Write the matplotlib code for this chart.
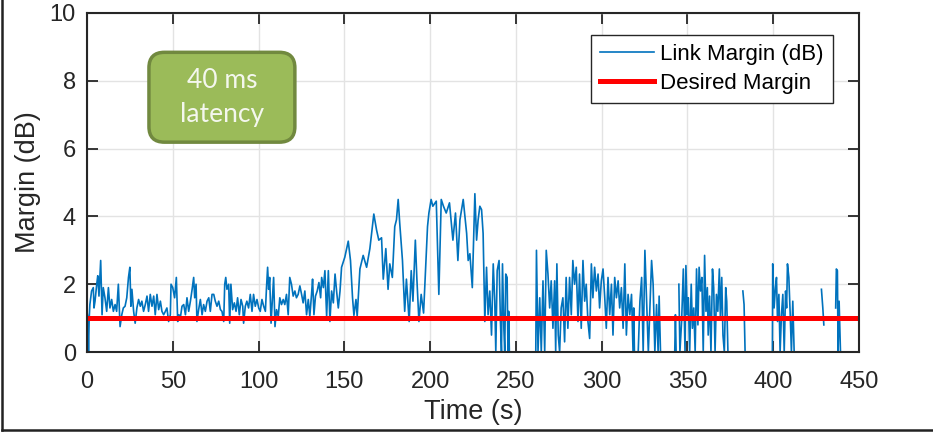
import numpy as np
import matplotlib
matplotlib.use("Agg")
import matplotlib.pyplot as plt
from matplotlib.patches import FancyBboxPatch
from matplotlib.lines import Line2D

plt.rcParams['font.family'] = ['Liberation Sans', 'DejaVu Sans']

# link margin samples, (time s, margin dB), one list per continuous run
quiet_run = [
    (0, 1.2), (0.5, 1.0), (0.9, 0.0), (1.3, 1.0), (1.7, 1.4), (2.7, 1.8), (3.7, 1.9), (4.1, 1.3),
    (4.7, 1.5), (5.7, 2.0), (6.3, 2.25), (7, 1.65), (8, 2.7), (8.8, 1.1), (9.5, 1.9), (10.5, 1.6),
    (11.5, 1.2), (12.5, 1.9), (13.4, 1.3), (14.4, 1.55), (15.4, 1.2), (16.4, 1.4), (17.3, 1.2),
    (18.3, 2.0), (19.3, 0.75), (20.3, 1.1), (21.2, 1.3), (22.2, 1.35), (23.2, 1.6), (24.2, 2.2),
    (25, 2.5), (25.6, 1.35), (26.2, 1.85), (27.2, 1.2), (28.1, 0.85), (29.1, 1.3), (30.1, 1.55),
    (31.1, 1.35), (32, 1.5), (33, 1.2), (34, 1.4), (35, 1.65), (35.9, 1.2), (36.9, 1.7),
    (37.9, 1.35), (38.9, 1.65), (39.8, 1.1), (40.8, 1.7), (41.8, 1.25), (42.8, 1.5), (43.7, 1.2),
    (44.7, 1.1), (45.7, 1.2), (46.6, 1.3), (47.6, 0.9), (48.6, 1.1), (49, 2.0), (50, 1.9),
    (51.1, 1.6), (52.1, 2.2), (52.9, 0.9), (53.6, 1.1), (54.4, 1.0), (55.4, 1.35), (56.4, 1.4),
    (57.4, 1.1), (58.3, 1.6), (59.3, 1.2), (60.3, 1.5), (61.3, 1.85), (62.2, 2.2), (62.8, 1.6),
    (63.6, 2.0), (64.1, 0.9), (65.1, 1.25), (66.1, 1.55), (67.1, 1.1), (68, 1.4), (69, 1.2),
    (70, 1.5), (71, 1.6), (71.9, 1.2), (72.9, 1.7), (73.9, 1.7), (74.8, 1.5), (75.8, 1.35),
    (76.8, 1.5), (77.8, 1.25), (78.7, 1.2), (79.7, 0.9), (80.3, 2.0), (80.9, 2.2), (81.6, 1.85),
    (82.6, 2.0), (83.2, 0.85), (83.9, 2.0), (84.9, 1.25), (85.9, 1.45), (86.9, 1.2), (87.8, 1.6),
    (88.8, 1.1), (89.8, 1.55), (90.8, 1.35), (91.3, 0.85), (92.3, 1.35), (93.2, 1.5), (94.2, 1.3),
    (95.2, 1.7), (96.2, 1.2), (97.1, 1.7), (98.1, 1.35), (99.1, 1.55), (100.1, 1.3), (101, 1.2),
    (102, 1.55), (103, 1.35), (104, 1.2), (104.6, 1.85), (105.3, 2.5), (105.9, 1.85), (106.5, 2.2),
    (107.3, 0.85), (108.1, 1.6), (108.8, 2.2), (109.6, 0.75), (110.5, 1.25), (111.5, 1.05),
    (112.4, 1.6), (113.4, 1.4), (114.4, 1.55), (115.3, 1.4), (116.3, 1.7), (117.3, 1.1),
    (118.2, 2.2), (119.2, 2.0), (120.2, 1.65), (121.2, 1.8), (122.1, 1.6), (123.1, 1.7),
    (124.1, 1.95), (125.1, 1.7), (126, 1.45), (127, 1.8), (128, 1.1), (129, 1.55), (129.9, 1.05),
    (130.9, 1.7), (131.5, 2.15), (132.3, 1.1), (133.2, 1.65), (134.2, 1.8), (135.2, 2.05),
    (136.2, 1.6), (136.8, 2.2), (137.8, 1.9), (138.7, 2.4), (139.7, 1.05), (140.7, 2.4),
    (141.6, 0.9), (142.6, 1.8), (143.6, 1.45), (144.6, 2.3), (145.5, 1.8), (146.5, 1.3),
    (147.5, 1.8),
]

climb_run = [
    (148.4, 2.5), (150.3, 2.8), (152.3, 3.27), (153.6, 2.7), (154.8, 1.6), (155.6, 1.08),
    (156.8, 1.55), (157.5, 1.05), (159.1, 2.45), (161, 2.85), (163, 2.5), (164.9, 3.05),
    (167.2, 4.07), (168.8, 3.6), (170.1, 3.3), (171.7, 3.37), (172.7, 2.15), (174.2, 3.05),
    (175.5, 1.85), (176.5, 2.6), (178, 2.2), (179.4, 3.7), (180.4, 3.9), (181.4, 4.5),
    (182.3, 3.8), (183.9, 2.7), (185.2, 1.2), (186.2, 2.15), (187.8, 0.9), (189, 2.4), (190, 1.5),
    (191.4, 3.3), (192.3, 2.15), (193.5, 0.9), (194.8, 1.7), (196.2, 1.15), (197.3, 2.4),
    (198.5, 3.7), (199.3, 4.1), (200.6, 4.5), (201.6, 4.3), (203.6, 4.45), (205.1, 1.7),
    (206.5, 4.5), (207.8, 4.3), (209.4, 4.1), (211.3, 4.4), (213.3, 3.3), (214.8, 4.1),
    (216.2, 2.7), (217.4, 3.9), (219.3, 4.5), (221.3, 3.5), (222.2, 2.7), (223.2, 2.9),
    (224.6, 1.9), (226.1, 4.67), (227.1, 3.3), (228, 3.9), (229, 4.3), (230, 4.2), (230.9, 3.5),
    (231.9, 0.9), (232.9, 2.5), (233.8, 1.1), (234.8, 1.8), (235.8, 0.5), (236.8, 2.6),
    (237.7, 1.5), (238.3, 0.0), (239.1, 2.4), (240.2, 2.7), (241, 0.9), (241.6, 0.0),
    (242.2, 2.6), (243, 0.7), (243.5, 0.0), (244.1, 2.3), (244.9, 2.2), (245.4, 0.0),
    (245.8, 1.2), (246.2, 0.0),
]

dense_run = [
    (261.6, 0.0), (262, 3.0), (262.9, 0.0), (263.9, 1.6), (264.8, 0.0), (265.8, 2.1), (266.8, 0.0),
    (267.7, 3.0), (268.7, 2.3), (269.7, 1.3), (270.6, 2.1), (271.6, 0.7), (272.6, 2.1),
    (273.2, 0.0), (273.9, 2.6), (274.7, 0.5), (275.5, 0.0), (276.4, 1.3), (277.4, 1.6),
    (278.4, 0.3), (279.3, 2.2), (280.3, 0.7), (281.3, 2.2), (282.3, 1.1), (283.2, 2.7),
    (284.2, 2.0), (285.2, 2.5), (286.2, 0.9), (287.1, 2.3), (288.1, 0.7), (289.1, 2.7),
    (290.1, 1.5), (291, 2.0), (292, 0.9), (293, 0.4), (294, 2.6), (294.9, 1.6), (295.9, 2.5),
    (296.9, 1.8), (297.9, 2.3), (298.8, 1.3), (299.8, 2.1), (300.8, 2.45), (301.8, 1.6),
    (302.7, 0.7), (303.7, 2.2), (304.7, 1.1), (305.7, 2.0), (306.6, 0.5), (307.6, 2.2),
    (308.6, 1.6), (309.6, 2.1), (310.5, 1.3), (311.5, 1.9), (312.5, 0.7), (313.5, 2.6),
    (314.4, 0.5), (315.4, 1.7), (316.4, 1.1), (317.4, 1.7), (318.3, 0.0), (318.7, 1.3),
    (319.1, 0.0),
]

burst_1 = [
    (321.3, 0.0), (322.3, 1.5), (323.3, 2.2), (324.2, 0.0), (325.2, 3.0), (326.2, 1.5),
    (327.2, 0.0), (328.1, 1.3), (329.1, 2.7), (330, 2.0), (331, 0.0), (332, 1.4), (332.9, 0.0),
    (333.5, 1.65), (334.3, 0.0),
]
burst_2 = [(342.6, 0.0), (343, 1.1), (343.4, 0.0)]
burst_3 = [
    (345, 2.0), (345.6, 0.0), (346.6, 0.9), (347.6, 2.45), (348.6, 0.0), (349.1, 2.55),
    (349.9, 1.1), (350.5, 1.6), (351.3, 0.0), (352.2, 2.0), (352.9, 0.7), (353.7, 1.3),
    (354.5, 0.0), (355.3, 2.45), (356.1, 0.8), (356.8, 2.5), (357.6, 1.8), (358.4, 2.2),
    (359.2, 0.0), (360, 2.85), (360.8, 1.2), (361.6, 1.9), (362.1, 0.5), (362.9, 1.65),
    (363.7, 0.0), (364.6, 2.45), (365.3, 1.9), (366.1, 0.0), (366.9, 1.7), (367.7, 1.2),
    (368.6, 2.45), (369.2, 1.0), (370, 2.2), (370.7, 0.5), (371.5, 0.0), (372.3, 1.9),
    (372.9, 1.5), (373.6, 0.0),
]
burst_4 = [(382.3, 1.8), (383, 1.4), (383.6, 0.0)]
burst_5 = [
    (399.5, 0.0), (399.7, 2.6), (400.5, 1.3), (401.3, 1.9), (401.9, 2.2), (402.5, 0.9),
    (403.3, 1.7), (404, 0.0), (404.8, 1.1), (405.6, 1.7), (406.4, 0.0), (407.2, 1.8),
    (407.8, 1.3), (408.3, 2.6), (409.1, 2.2), (409.9, 1.1), (410.6, 0.0), (411.4, 1.5),
    (412.2, 0.0),
]
burst_6 = [(428.1, 1.85), (428.9, 1.3), (429.5, 0.8)]
burst_7 = [(436.4, 1.3), (436.8, 2.45), (437.4, 2.4), (437.8, 0.0), (438.4, 1.5), (439.2, 0.0)]

desired_margin = 1.0
time_span = (0, 450)

# join runs, NaN rows break the line where the link dropped out
runs = [quiet_run + climb_run, dense_run, burst_1, burst_2, burst_3, burst_4, burst_5, burst_6, burst_7]
pieces = []
for r in runs:
    pieces.append(np.array(r, dtype=float))
    pieces.append(np.array([[np.nan, np.nan]]))
samples = np.vstack(pieces)
t, margin = samples[:, 0], samples[:, 1]

fig = plt.figure(figsize=(9.33, 4.33), dpi=100)
ax = fig.add_axes([0.0932, 0.187, 0.8275, 0.783])

ax.plot(t, margin, color='#0072BD', lw=1.2, label='Link Margin (dB)')
ax.plot(time_span, [desired_margin, desired_margin], color='#FF0000', lw=3.6, label='Desired Margin')

ax.set_xlim(*time_span)
ax.set_ylim(0, 10)
ax.set_xticks(np.arange(0, 451, 50))
ax.set_yticks(np.arange(0, 11, 2))
ax.grid(True, color='#E3E3E3', lw=1.0)
ax.set_axisbelow(True)
ax.tick_params(direction='in', length=8, width=1.3, top=True, right=True,
               labelsize=17, colors='#262626', pad=8)
ax.tick_params(axis='x', pad=14)
for s in ax.spines.values():
    s.set_color('#262626')
    s.set_linewidth(1.5)

ax.set_xlabel('Time (s)', fontsize=19.5, color='#262626', labelpad=4)
ax.set_ylabel('Margin (dB)', fontsize=19.5, color='#262626', labelpad=6)

leg = ax.legend(loc='upper right', bbox_to_anchor=(0.966, 0.935), borderaxespad=0,
                fontsize=16, fancybox=False, framealpha=1, edgecolor='#262626',
                handlelength=2.4, handletextpad=0.3, borderpad=0.4, labelspacing=0.35)
leg.get_frame().set_linewidth(1.0)

# rounded green note box, sized in axes fraction with equal corner rounding
aspect = (0.8275 * 9.33) / (0.783 * 4.33)
box = FancyBboxPatch((0.0803, 0.619), 0.189, 0.265, transform=ax.transAxes,
                     boxstyle='round,pad=0,rounding_size=0.02', mutation_aspect=aspect,
                     facecolor='#9BBB59', edgecolor='#71893F', lw=2.5, zorder=5)
ax.add_patch(box)
ax.text(0.0803 + 0.0945, 0.619 + 0.1325, '40 ms\nlatency', transform=ax.transAxes,
        ha='center', va='center', fontsize=19, color='#F4F7EE', family=['Lato', 'DejaVu Sans'],
        linespacing=1.45, zorder=6)

# frame edges along the left and bottom of the figure
fig.add_artist(Line2D([0.0025, 0.0025], [0.007, 1.0], transform=fig.transFigure, color='#222222', lw=1.8))
fig.add_artist(Line2D([0.0025, 1.0], [0.007, 0.007], transform=fig.transFigure, color='#222222', lw=1.8))

fig.savefig('out.png', dpi=100)
